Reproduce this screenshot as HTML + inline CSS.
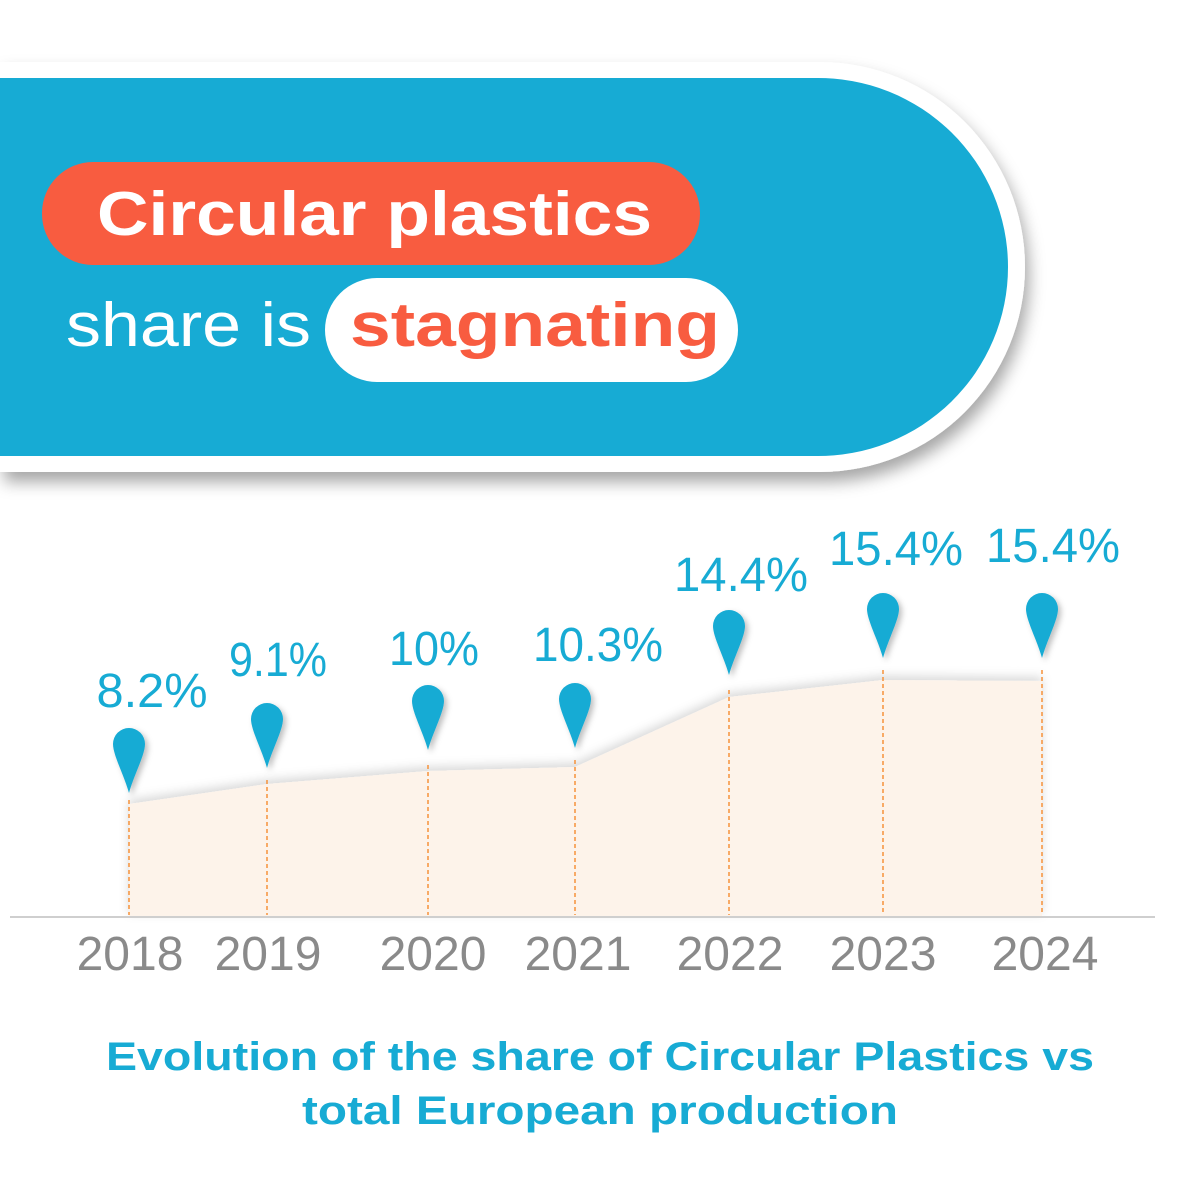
<!DOCTYPE html>
<html><head><meta charset="utf-8"><style>
html,body{margin:0;padding:0;background:#fff;}
svg{display:block;}
text{font-family:"Liberation Sans",sans-serif;}
</style></head><body>
<svg width="1200" height="1200" viewBox="0 0 1200 1200" xmlns="http://www.w3.org/2000/svg">
<defs>
<filter id="sh" x="-10%" y="-10%" width="130%" height="140%">
<feDropShadow dx="4" dy="10" stdDeviation="8" flood-color="#000" flood-opacity="0.35"/>
</filter>
<filter id="ps" x="-50%" y="-20%" width="200%" height="150%">
<feDropShadow dx="3" dy="3" stdDeviation="3" flood-color="#000" flood-opacity="0.25"/>
</filter>
<filter id="as" x="-5%" y="-20%" width="110%" height="140%">
<feDropShadow dx="0" dy="-4" stdDeviation="5" flood-color="#000" flood-opacity="0.15"/>
</filter>
</defs>
<path d="M0,62 H820 A205,205 0 0 1 1025,267 A205,205 0 0 1 820,472 H0 Z" fill="#fff" filter="url(#sh)"/>
<path d="M0,78 H815 A190,189 0 0 1 1008,267 A190,189 0 0 1 815,456 H0 Z" fill="#17abd4"/>
<rect x="42" y="162" width="658" height="103" rx="51" fill="#f85c40"/>
<text x="97" y="235" font-size="62" font-weight="bold" fill="#fff" textLength="555" lengthAdjust="spacingAndGlyphs">Circular plastics</text>
<text x="66" y="346" font-size="62" fill="#fff" textLength="245" lengthAdjust="spacingAndGlyphs">share is</text>
<rect x="325" y="278" width="413" height="104" rx="52" fill="#fff"/>
<text x="350" y="346" font-size="62" font-weight="bold" fill="#f85c40" textLength="370" lengthAdjust="spacingAndGlyphs">stagnating</text>
<polygon points="129,804 267,784 428,771 575,767 729,697 883,680 1042,681 1042,917 129,917" fill="#fdf3ea" filter="url(#as)"/>
<line x1="10" y1="917" x2="1155" y2="917" stroke="#cfcfcf" stroke-width="2"/>
<g stroke="#f6923a" stroke-width="1.5" stroke-dasharray="4,3">
<line x1="129" y1="800" x2="129" y2="915"/>
<line x1="267" y1="780" x2="267" y2="915"/>
<line x1="428" y1="765" x2="428" y2="915"/>
<line x1="575" y1="760" x2="575" y2="915"/>
<line x1="729" y1="690" x2="729" y2="915"/>
<line x1="883" y1="670" x2="883" y2="915"/>
<line x1="1042" y1="670" x2="1042" y2="915"/>
</g>
<g fill="#17abd4" filter="url(#ps)">
<path d="M129,793 C124,775 113,755 113,744 A16,16 0 0 1 145,744 C145,755 134,775 129,793 Z"/>
<path d="M267,768 C262,750 251,730 251,719 A16,16 0 0 1 283,719 C283,730 272,750 267,768 Z"/>
<path d="M428,750 C423,732 412,712 412,701 A16,16 0 0 1 444,701 C444,712 433,732 428,750 Z"/>
<path d="M575,748 C570,730 559,710 559,699 A16,16 0 0 1 591,699 C591,710 580,730 575,748 Z"/>
<path d="M729,675 C724,657 713,637 713,626 A16,16 0 0 1 745,626 C745,637 734,657 729,675 Z"/>
<path d="M883,658 C878,640 867,620 867,609 A16,16 0 0 1 899,609 C899,620 888,640 883,658 Z"/>
<path d="M1042,658 C1037,640 1026,620 1026,609 A16,16 0 0 1 1058,609 C1058,620 1047,640 1042,658 Z"/>
</g>
<g fill="#17abd4" font-size="48" text-anchor="middle">
<text x="152" y="707" textLength="111" lengthAdjust="spacingAndGlyphs">8.2%</text>
<text x="278" y="676" textLength="98" lengthAdjust="spacingAndGlyphs">9.1%</text>
<text x="434" y="665" textLength="90" lengthAdjust="spacingAndGlyphs">10%</text>
<text x="598" y="661" textLength="130" lengthAdjust="spacingAndGlyphs">10.3%</text>
<text x="741" y="591" textLength="134" lengthAdjust="spacingAndGlyphs">14.4%</text>
<text x="896" y="565" textLength="134" lengthAdjust="spacingAndGlyphs">15.4%</text>
<text x="1053" y="562" textLength="134" lengthAdjust="spacingAndGlyphs">15.4%</text>
</g>
<g fill="#8a8a8a" font-size="48" text-anchor="middle">
<text x="130" y="970">2018</text>
<text x="268" y="970">2019</text>
<text x="433" y="970">2020</text>
<text x="578" y="970">2021</text>
<text x="730" y="970">2022</text>
<text x="883" y="970">2023</text>
<text x="1045" y="970">2024</text>
</g>
<g fill="#17abd4" font-size="40" font-weight="bold" text-anchor="middle">
<text x="600" y="1070" textLength="988" lengthAdjust="spacingAndGlyphs">Evolution of the share of Circular Plastics vs</text>
<text x="600" y="1124" textLength="596" lengthAdjust="spacingAndGlyphs">total European production</text>
</g>
</svg>
</body></html>
